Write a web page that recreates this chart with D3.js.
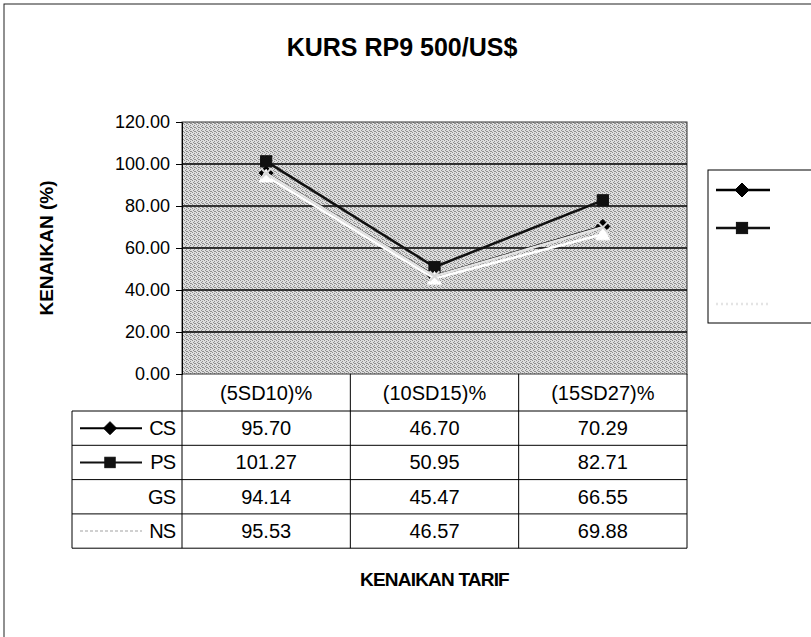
<!DOCTYPE html>
<html><head><meta charset="utf-8">
<script src="https://cdn.jsdelivr.net/npm/d3@7"></script>
<style>
html,body{margin:0;padding:0;background:#fff;}
text{font-family:"Liberation Sans",Arial,sans-serif;fill:#000;}
</style></head>
<body>
<svg id="chart" width="811" height="637"></svg>
<script>
const title = "KURS RP9 500/US$";
const categories = ["(5SD10)%", "(10SD15)%", "(15SD27)%"];
const seriesNames = ["CS", "PS", "GS", "NS"];
const csValues = [95.70, 46.70, 70.29];
const psValues = [101.27, 50.95, 82.71];
const gsValues = [94.14, 45.47, 66.55];
const nsValues = [95.53, 46.57, 69.88];
const yTicks = [0, 20, 40, 60, 80, 100, 120];
const yTitle = "KENAIKAN (%)";
const xTitle = "KENAIKAN TARIF";

const seriesValues = [csValues, psValues, gsValues, nsValues];
const styles = [
  {line:"#000", width:2.5, marker:"diamond", mfill:"#000", mstroke:"#000"},
  {line:"#111", width:2.5, marker:"square", mfill:"#111", mstroke:"#111"},
  {line:"#fff", width:2.5, marker:"triangle", mfill:"#fff", mstroke:"#fff"},
  {line:"#e4e4e4", width:2.5, marker:"x", mfill:"none", mstroke:"#d8d8d8"}
];

const svg = d3.select("#chart");
const L = 182, R = 687, T = 122, B = 374;
const rowH = 34.3, headerB = 411, keyL = 72;

// dither pattern for plot background
const defs = svg.append("defs");
const pat = defs.append("pattern").attr("id","dither").attr("width",4).attr("height",4)
  .attr("patternUnits","userSpaceOnUse");
pat.append("rect").attr("width",4).attr("height",4).attr("fill","#dedede");
[[0,0],[2,1],[1,2],[3,3],[2,3]].forEach(([a,b])=>{
  pat.append("rect").attr("x",a).attr("y",b).attr("width",1).attr("height",1).attr("fill","#8e8e8e");
});

// outer chart border
svg.append("rect").attr("x",4).attr("y",4).attr("width",820).attr("height",650)
  .attr("fill","#fff").attr("stroke","#222").attr("stroke-width",1);

const x = d3.scaleBand().domain(categories).range([L, R]).padding(0);
const y = d3.scaleLinear().domain([0, 120]).range([B, T]);

// plot background
svg.append("rect").attr("x",L).attr("y",T).attr("width",R-L).attr("height",B-T)
  .attr("fill","url(#dither)").attr("stroke","#333").attr("stroke-width",1);

// gridlines
svg.append("g").selectAll("line").data(yTicks.filter(d=>d>0 && d<120)).join("line")
  .attr("x1",L).attr("x2",R).attr("y1",d=>y(d)).attr("y2",d=>y(d))
  .attr("stroke","#000").attr("stroke-width",1.3);

// y axis
const yAxis = d3.axisLeft(y).tickValues(yTicks).tickFormat(d3.format(".2f")).tickSize(6).tickPadding(6);
const ya = svg.append("g").attr("transform",`translate(${L},0)`).call(yAxis);
ya.select(".domain").attr("stroke","#000");
ya.selectAll(".tick line").attr("stroke","#000");
ya.selectAll("text").style("font-size","18px").attr("fill","#000");

// table
const tableB = headerB + rowH*seriesNames.length;
const tg = svg.append("g");
tg.selectAll("text.cat").data(categories).join("text").attr("class","cat")
  .attr("x",d=>x(d)+x.bandwidth()/2).attr("y",(B+headerB)/2+7)
  .attr("text-anchor","middle").style("font-size","20px").text(d=>d);
const vx = [L, ...categories.map(c=>x(c)+x.bandwidth())];
tg.selectAll("line.v").data(vx).join("line").attr("class","v")
  .attr("x1",d=>d).attr("x2",d=>d).attr("y1",B).attr("y2",tableB)
  .attr("stroke","#000").attr("stroke-width",1);
tg.append("line").attr("x1",keyL).attr("x2",keyL).attr("y1",headerB).attr("y2",tableB).attr("stroke","#000");
const hy = d3.range(seriesNames.length+1).map(i=>headerB+i*rowH);
tg.selectAll("line.h").data(hy).join("line").attr("class","h")
  .attr("x1",keyL).attr("x2",R).attr("y1",d=>d).attr("y2",d=>d)
  .attr("stroke","#000").attr("stroke-width",1);

function marker(g, type, cx, cy, st, s){
  if(type==="diamond"){
    g.append("path").attr("d",`M${cx},${cy-s}L${cx+s},${cy}L${cx},${cy+s}L${cx-s},${cy}Z`)
      .attr("fill",st.mfill).attr("stroke",st.mstroke);
  } else if(type==="square"){
    g.append("rect").attr("x",cx-s*0.8).attr("y",cy-s*0.8).attr("width",s*1.6).attr("height",s*1.6)
      .attr("fill",st.mfill).attr("stroke",st.mstroke);
  } else if(type==="triangle"){
    g.append("path").attr("d",`M${cx},${cy-s}L${cx+s},${cy+s*0.8}L${cx-s},${cy+s*0.8}Z`)
      .attr("fill",st.mfill).attr("stroke",st.mstroke);
  } else if(type==="x"){
    g.append("path").attr("d",`M${cx-s*0.7},${cy-s*0.7}L${cx+s*0.7},${cy+s*0.7}M${cx+s*0.7},${cy-s*0.7}L${cx-s*0.7},${cy+s*0.7}`)
      .attr("stroke",st.mstroke).attr("stroke-width",2).attr("fill","none");
  }
}

seriesNames.forEach((name,i)=>{
  const cy = headerB + i*rowH + rowH/2;
  const st = styles[i];
  tg.append("text").attr("x",L-7).attr("y",cy+7).attr("text-anchor","end")
    .style("font-size","20px").style("letter-spacing","-1px").text(name);
  tg.append("line").attr("x1",80).attr("x2",142).attr("y1",cy).attr("y2",cy)
    .attr("stroke",i===3?"#d0d0d0":st.line).attr("stroke-width",2)
    .attr("stroke-dasharray", i===3 ? "3,2" : null);
  if(i<2) marker(tg, st.marker, 110, cy, st, 6.5);
  tg.selectAll(null).data(seriesValues[i]).join("text")
    .attr("x",(d,j)=>x(categories[j])+x.bandwidth()/2).attr("y",cy+7)
    .attr("text-anchor","middle").style("font-size","20px")
    .text(d=>d3.format(".2f")(d));
});

// series: drawn in Excel order CS, PS, GS, NS (later ones on top)
const line = d3.line().x((d,j)=>x(categories[j])+x.bandwidth()/2).y(d=>y(d));
const pg = svg.append("g");
[0,1,2,3].forEach(i=>{
  const st = styles[i];
  pg.append("path").datum(seriesValues[i]).attr("d",line)
    .attr("fill","none").attr("stroke",st.line).attr("stroke-width",st.width);
  seriesValues[i].forEach((v,j)=>{
    marker(pg, st.marker, x(categories[j])+x.bandwidth()/2, y(v), st, 7);
  });
});

// legend
const lg = svg.append("g");
lg.append("rect").attr("x",708).attr("y",170).attr("width",110).attr("height",153)
  .attr("fill","#fff").attr("stroke","#000");
const legY = [190, 228, 266, 304];
seriesNames.forEach((name,i)=>{
  const st = styles[i];
  lg.append("line").attr("x1",716).attr("x2",770).attr("y1",legY[i]).attr("y2",legY[i])
    .attr("stroke",st.line).attr("stroke-width",2.5)
    .attr("stroke-dasharray", i===3 ? "2,3" : null);
  if(i<2) marker(lg, st.marker, 742, legY[i], st, 7);
});

// titles
svg.append("text").attr("x",402).attr("y",56).attr("text-anchor","middle")
  .style("font-size","25px").style("font-weight","bold").text(title);
svg.append("text").attr("transform",`translate(53,248) rotate(-90)`).attr("text-anchor","middle")
  .style("font-size","19px").style("font-weight","bold").text(yTitle);
svg.append("text").attr("x",(L+R)/2).attr("y",586).attr("text-anchor","middle")
  .style("font-size","19px").style("font-weight","bold").style("letter-spacing","-0.8px").text(xTitle);
</script>
</body></html>
